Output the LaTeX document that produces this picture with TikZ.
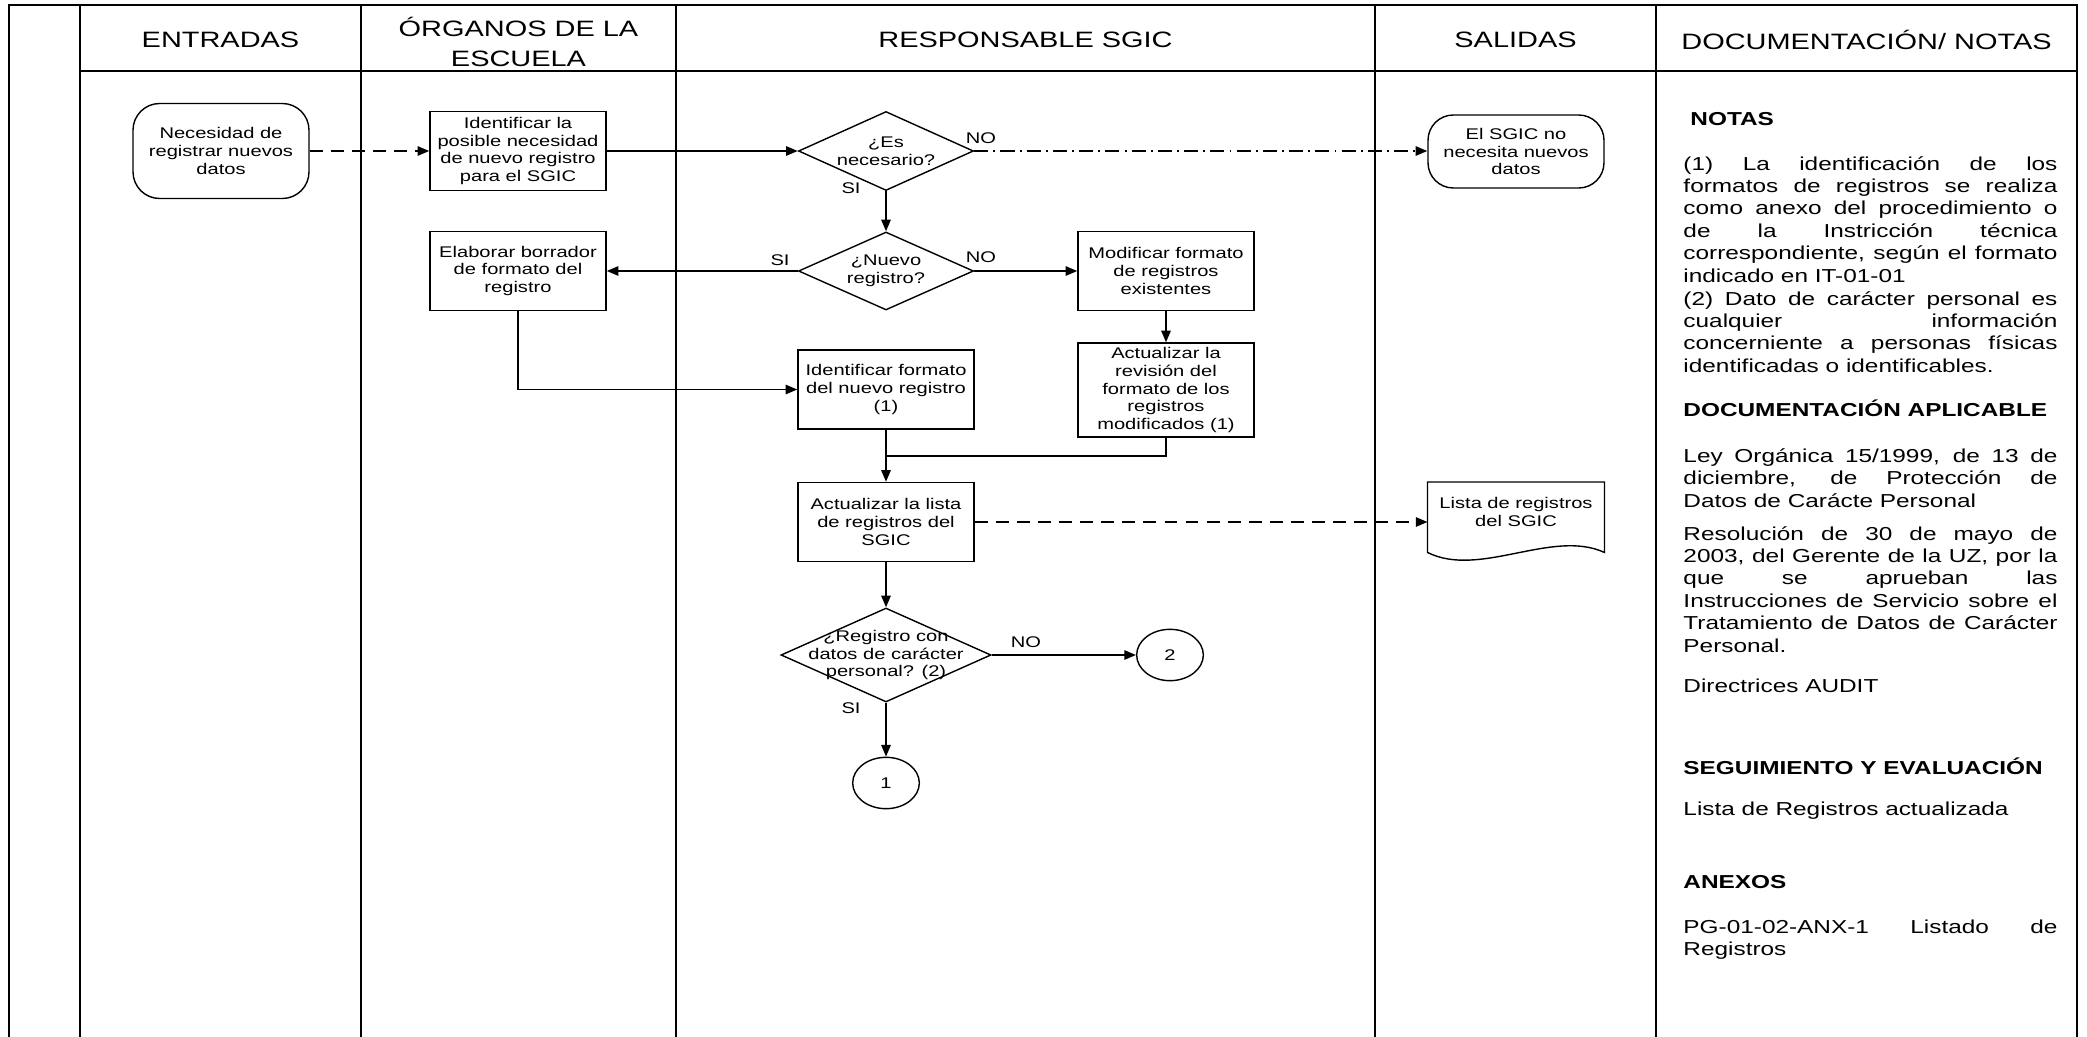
\documentclass[tikz,border=0pt]{standalone}
\usepackage{fontspec}
\setmainfont{Liberation Sans}[FakeStretch=1.3]
\usepackage{tikz}
\usetikzlibrary{positioning, shapes.geometric, arrows.meta, calc}

\newcommand{\flowsize}{\fontsize{6.6}{7.65}\selectfont}
\newcommand{\headsize}{\fontsize{9.5}{12.8}\selectfont}
\newcommand{\notesize}{\fontsize{8}{9.57}\selectfont}

\begin{document}
\begin{tikzpicture}[
    x=0.015cm, y=-0.015cm,
    >={Triangle[length=5pt, width=4pt]},
    %% ── Base node style ──
    box/.style={
        draw, line width=0.6pt, align=center, font=\flowsize, inner sep=1pt
    },
    %% ── Flow-chart shapes ──
    process/.style={box, rectangle, minimum width=2.64cm, minimum height=1.185cm},
    terminal/.style={box, rectangle, rounded corners=0.4cm, minimum width=2.64cm},
    decision/.style={box, diamond, aspect=2.2, inner sep=0pt,
        minimum width=2.625cm, minimum height=1.185cm},
    connector/.style={box, ellipse, minimum width=1.0cm, minimum height=0.77cm},
    doctext/.style={rectangle, align=center, font=\flowsize, inner sep=1pt,
        minimum width=2.64cm, minimum height=0.885cm},
    answer/.style={font=\flowsize, inner sep=0pt},
    %% ── Lanes and notes ──
    lane/.style={line width=1pt},
    lanehead/.style={align=center, font=\headsize},
    notehead/.style={anchor=base west, inner sep=0pt, font=\notesize\bfseries},
    note/.style={anchor=base west, inner sep=0pt, font=\notesize,
        text width=5.61cm, align=justify},
    %% ── Arrow styles ──
    flow/.style={->, line width=0.8pt},
    dataflow/.style={flow, dash pattern=on 5.5pt off 3.5pt},
    exitflow/.style={flow, dash pattern=on 6pt off 2.2pt on 0.8pt off 2.2pt},
]
\useasboundingbox (0,0) rectangle (2087,1037);

% ── Swim lanes ──
\draw[lane] (9,1037) -- (9,5) -- (2077,5) -- (2077,1037);
\draw[lane] (80,71) -- (2077,71);
\foreach \x in {80,361,676,1375,1656}
    \draw[lane] (\x,5) -- (\x,1037);

\node[lanehead] (hEnt)  at (220.5,40)  {ENTRADAS};
\node[lanehead] (hOrg)  at (518.5,42)  {ÓRGANOS DE LA\\ESCUELA};
\node[lanehead] (hResp) at (1025.5,40) {RESPONSABLE SGIC};
\node[lanehead] (hSal)  at (1515.5,40) {SALIDAS};
\node[lanehead] (hDoc)  at (1866.5,40) {DOCUMENTACIÓN/ NOTAS};

% ── Column 1 · Entradas ──
\node[terminal, minimum height=1.425cm] (need) at (221,151)
    {Necesidad de\\registrar nuevos\\datos};

% ── Column 2 · Órganos de la escuela ──
\node[process] (ident) at (518,151)
    {Identificar la\\posible necesidad\\de nuevo registro\\para el SGIC};
\node[process] (borr)  at (518,271)
    {Elaborar borrador\\de formato del\\registro};

% ── Column 3 · Responsable SGIC ──
\node[decision] (esnec) at (886,151) {¿Es\\necesario?};
\node[decision, minimum height=1.17cm] (nuevo) at (886,271) {¿Nuevo\\registro?};
\node[process] (modif)    at (1166,271) {Modificar formato\\de registros\\existentes};
\node[process, minimum height=1.41cm] (revis) at (1166,390)
    {Actualizar la\\revisión del\\formato de los\\registros\\modificados (1)};
\node[process] (formato)  at (886,389.5) {Identificar formato\\del nuevo registro\\(1)};
\node[process] (actlista) at (886,522)   {Actualizar la lista\\de registros del\\SGIC};
\node[decision, minimum width=3.15cm, minimum height=1.41cm] (pers) at (886,655) {};
\node[align=center, font=\flowsize, inner sep=0pt] (perstext) at (pers.center)
    {¿Registro con\\datos de carácter\\personal? (2)};
\node[connector] (conB) at (1170,655) {2};
\node[connector] (conA) at (886,783)  {1};

% ── Column 4 · Salidas ──
\node[terminal, minimum height=1.095cm, rounded corners=0.38cm] (nonec) at (1516,151.5)
    {El SGIC no\\necesita nuevos\\datos};
\node[doctext] (listadoc) at (1516,512) {Lista de registros\\del SGIC};
\draw[box] (listadoc.south west) -- (listadoc.north west) -- (listadoc.north east)
    -- ($(listadoc.south east)+(0,10.5)$)
    .. controls ($(listadoc.south east)+(-52,-13.5)$) and ($(listadoc.south west)+(52,36.5)$)
    .. ($(listadoc.south west)+(0,10.5)$) -- cycle;

% ── Answers on the decisions ──
\node[answer] (esNo)   at (981,138)  {NO};
\node[answer] (esSi)   at (851,188)  {SI};
\node[answer] (nuSi)   at (780,260)  {SI};
\node[answer] (nuNo)   at (981,257)  {NO};
\node[answer] (persNo) at (1026,642) {NO};
\node[answer] (persSi) at (851,708)  {SI};

% ── Connectors ──
\draw[dataflow] (need) -- (ident);
\draw[flow]     (ident) -- (esnec);
\draw[exitflow] (esnec.east) -- (esnec.east -| nonec.west);
\draw[flow]     (esnec) -- (nuevo);
\draw[flow]     (nuevo) -- (borr);
\draw[flow]     (nuevo) -- (modif);
\draw[flow]     (modif) -- (revis);
\draw[flow]     (borr.south) |- (formato.west);
\draw[flow]     (formato) -- (actlista);
\coordinate (merge) at (886,456);
\draw[line width=0.8pt] (revis.south) |- (merge);
\draw[dataflow] (actlista.east) -- (actlista.east -| listadoc.west);
\draw[flow]     (actlista) -- (pers);
\draw[flow]     (pers) -- (conB);
\draw[flow]     (pers) -- (conA);

% ── Column 5 · Documentación / notas ──
\node[notehead] (notasT) at (1690,125) {NOTAS};
\node[note] (notas1) at (1683,170)
    {(1) La identificación de los\linebreak formatos de registros se realiza\linebreak
     como anexo del procedimiento o\linebreak de la Instricción técnica\linebreak
     correspondiente, según el formato\linebreak indicado en IT-01-01};
\node[note] (notas2) at (1683,305)
    {(2) Dato de carácter personal es\linebreak cualquier información\linebreak
     concerniente a personas físicas\linebreak identificadas o identificables.};

\node[notehead] (docT) at (1683,416.5) {DOCUMENTACIÓN APLICABLE};
\node[note] (doc1) at (1683,462.5)
    {Ley Orgánica 15/1999, de 13 de\linebreak diciembre, de Protección de\linebreak
     Datos de Carácte Personal};
\node[note] (doc2) at (1683,540)
    {Resolución de 30 de mayo de\linebreak 2003, del Gerente de la UZ, por la\linebreak
     que se aprueban las\linebreak Instrucciones de Servicio sobre el\linebreak
     Tratamiento de Datos de Carácter\linebreak Personal.};
\node[note] (doc3) at (1683,692) {Directrices AUDIT};

\node[notehead] (segT) at (1683,774) {SEGUIMIENTO Y EVALUACIÓN};
\node[note] (seg1) at (1683,815) {Lista de Registros actualizada};

\node[notehead] (anxT) at (1683,888) {ANEXOS};
\node[note] (anx1) at (1683,933) {PG-01-02-ANX-1 Listado de\linebreak Registros};

\end{tikzpicture}
\end{document}
